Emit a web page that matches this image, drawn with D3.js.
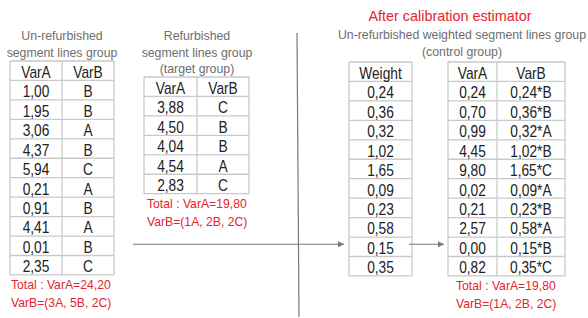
<!DOCTYPE html>
<html>
<head>
<meta charset="utf-8">
<script src="https://cdn.jsdelivr.net/npm/d3@7"></script>
<style>
  body { margin: 0; background: #fff; }
  svg { display: block; font-family: "Liberation Sans", Arial, sans-serif; }
</style>
</head>
<body>
<div id="chart"></div>
<script>
////////// data /////////////
const unrefVarA = [1.00, 1.95, 3.06, 4.37, 5.94, 0.21, 0.91, 4.41, 0.01, 2.35];
const unrefVarB = ["B", "B", "A", "B", "C", "A", "B", "A", "B", "C"];
const refVarA = [3.88, 4.50, 4.04, 4.54, 2.83];
const refVarB = ["C", "B", "B", "A", "C"];
const weights = [0.24, 0.36, 0.32, 1.02, 1.65, 0.09, 0.23, 0.58, 0.15, 0.35];
const weightedVarA = [0.24, 0.70, 0.99, 4.45, 9.80, 0.02, 0.21, 2.57, 0.00, 0.82];

const unrefTitle = ["Un-refurbished", "segment lines group"];
const refTitle = ["Refurbished", "segment lines group", "(target group)"];
const calibTitle = "After calibration estimator";
const controlTitle = ["Un-refurbished weighted segment lines group", "(control group)"];
const unrefTotal = ["Total : VarA=24,20", "VarB=(3A, 5B, 2C)"];
const refTotal = ["Total : VarA=19,80", "VarB=(1A, 2B, 2C)"];
const controlTotal = ["Total : VarA=19,80", "VarB=(1A, 2B, 2C)"];

const fmt = v => d3.format(".2f")(v).replace(".", ",");

const width = 588, height = 318;
const svg = d3.select("#chart").append("svg")
  .attr("width", width)
  .attr("height", height);

const RED = "#e5232b", GREY = "#6e6e6e", BORDER = "#c9c9c9", INK = "#222";

/////////// table helper
function drawTable(x0, x1, splits, top, rowH, header, rows) {
  const g = svg.append("g");
  const nRows = rows.length + 1;
  const y = d3.scaleBand().domain(d3.range(nRows)).range([top, top + nRows * rowH]);
  const edges = [x0, ...splits, x1];
  const cols = d3.range(header.length);
  const cx = i => (edges[i] + edges[i + 1]) / 2;

  // grid
  g.selectAll("line.h").data(d3.range(nRows + 1)).enter().append("line")
    .attr("x1", x0).attr("x2", x1)
    .attr("y1", d => top + d * rowH).attr("y2", d => top + d * rowH)
    .attr("stroke", BORDER).attr("stroke-width", 1.3);
  g.selectAll("line.v").data(edges).enter().append("line")
    .attr("x1", d => d).attr("x2", d => d)
    .attr("y1", top).attr("y2", top + nRows * rowH)
    .attr("stroke", BORDER).attr("stroke-width", 1.3);

  const cells = [];
  cols.forEach(c => cells.push({ r: 0, c, t: header[c] }));
  rows.forEach((row, r) => row.forEach((t, c) => cells.push({ r: r + 1, c, t })));

  g.selectAll("text").data(cells).enter().append("text")
    .attr("transform", d => `translate(${cx(d.c)},${y(d.r) + rowH - 2.6}) scale(0.86,1)`)
    .attr("text-anchor", "middle")
    .attr("font-size", 16)
    .attr("fill", INK)
    .text(d => d.t);
}

function drawLines(lines, x, y0, dy, opts) {
  svg.append("g").selectAll("text").data(lines).enter().append("text")
    .attr("x", x).attr("y", (d, i) => y0 + i * dy)
    .attr("text-anchor", opts.anchor || "middle")
    .attr("font-size", opts.size)
    .attr("fill", opts.fill)
    .text(d => d);
}

/////////// titles
drawLines(unrefTitle, 62, 40, 17, { size: 12.3, fill: GREY });
drawLines(refTitle, 197, 40, 16.5, { size: 12.3, fill: GREY });
drawLines([calibTitle], 450, 21, 0, { size: 14.4, fill: RED });
drawLines(controlTitle, 462, 38.5, 17, { size: 12.3, fill: GREY });

/////////// tables
const rowH = 19.45;
drawTable(10, 114, [62], 61, rowH, ["VarA", "VarB"],
  unrefVarA.map((v, i) => [fmt(v), unrefVarB[i]]));
drawTable(144, 249, [197], 77, rowH, ["VarA", "VarB"],
  refVarA.map((v, i) => [fmt(v), refVarB[i]]));
drawTable(349, 412, [], 62, rowH, ["Weight"],
  weights.map(w => [fmt(w)]));
drawTable(448, 565, [497], 62, rowH, ["VarA", "VarB"],
  weightedVarA.map((v, i) => [fmt(v), fmt(weights[i]) + "*" + unrefVarB[i]]));

/////////// totals
drawLines(unrefTotal, 11, 289, 17.5, { size: 12.2, fill: RED, anchor: "start" });
drawLines(refTotal, 147, 208, 17.5, { size: 12.2, fill: RED, anchor: "start" });
drawLines(controlTotal, 456, 290, 17.5, { size: 12.2, fill: RED, anchor: "start" });

/////////// divider and arrows
svg.append("defs").append("marker")
  .attr("id", "arrow")
  .attr("viewBox", "0 0 10 10")
  .attr("refX", 10).attr("refY", 5)
  .attr("markerWidth", 8).attr("markerHeight", 6)
  .attr("markerUnits", "userSpaceOnUse")
  .attr("orient", "auto")
  .append("path").attr("d", "M0,0L10,5L0,10Z").attr("fill", "#777");

svg.append("line")
  .attr("x1", 297).attr("y1", 33).attr("x2", 299).attr("y2", 317)
  .attr("stroke", "#777").attr("stroke-width", 1.2);

const arrows = [[133, 344], [409, 444]];
svg.selectAll("line.arrow").data(arrows).enter().append("line")
  .attr("x1", d => d[0]).attr("x2", d => d[1])
  .attr("y1", 244.3).attr("y2", 244.3)
  .attr("stroke", "#777").attr("stroke-width", 1.1)
  .attr("marker-end", "url(#arrow)");
</script>
</body>
</html>
